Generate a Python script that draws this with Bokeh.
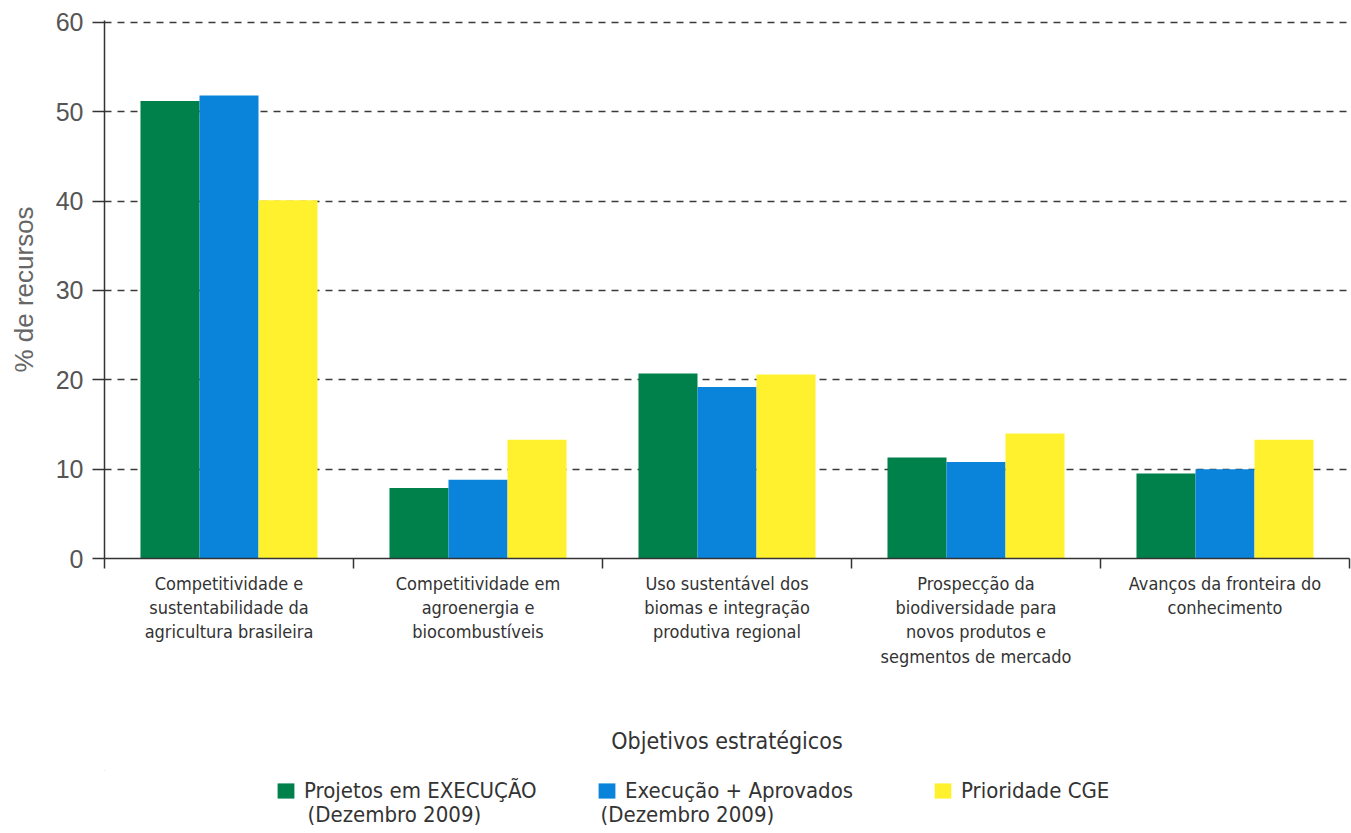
import numpy as np
from bokeh.plotting import figure
from bokeh.layouts import column
from bokeh.models import Range1d, FixedTicker, Legend, LegendItem, Label
from bokeh.embed import file_html
from bokeh.resources import INLINE

categories = [
    "Competitividade e\nsustentabilidade da\nagricultura brasileira",
    "Competitividade em\nagroenergia e\nbiocombustíveis",
    "Uso sustentável dos\nbiomas e integração\nprodutiva regional",
    "Prospecção da\nbiodiversidade para\nnovos produtos e\nsegmentos de mercado",
    "Avanços da fronteira do\nconhecimento",
]
series_names = [
    "Projetos em EXECUÇÃO",
    "Execução + Aprovados",
    "Prioridade CGE",
]
series_subtitles = ["(Dezembro 2009)", "(Dezembro 2009)", ""]
execucao = [51.2, 7.9, 20.7, 11.3, 9.5]
exec_aprovados = [51.8, 8.8, 19.2, 10.8, 10.0]
prioridade = [40.1, 13.3, 20.6, 14.0, 13.3]
y_ticks = [0, 10, 20, 30, 40, 50, 60]

colors = ["#00804a", "#0a84da", "#fff12e"]
NARROW = "'Liberation Sans Narrow', 'DejaVu Sans Condensed', 'Roboto', sans-serif"
SANS = "'Liberation Sans', Arial, sans-serif"

n = len(categories)
centers = np.arange(n) + 0.5

MAIN_H = 770
FRAME_L, FRAME_R = 104, 2
p = figure(width=1351, height=MAIN_H, output_backend="svg", toolbar_location=None,
           x_range=Range1d(0, n), y_range=Range1d(0, 60.2),
           min_border_left=FRAME_L, min_border_right=FRAME_R, min_border_top=20,
           min_border_bottom=MAIN_H - 558)
p.outline_line_color = None
p.background_fill_color = "white"
p.border_fill_color = "white"

bw = 0.237
offsets = [-bw, 0.0, bw]
for vals, off, col in zip([execucao, exec_aprovados, prioridade], offsets, colors):
    p.vbar(x=centers + off, top=vals, width=bw, bottom=0,
           fill_color=col, line_color=None)

# grid
p.xgrid.grid_line_color = None
p.ygrid.ticker = FixedTicker(ticks=y_ticks)
p.ygrid.grid_line_color = "#3a3a3a"
p.ygrid.grid_line_width = 1.4
p.ygrid.grid_line_dash = "7 6"

# y axis
ya = p.yaxis[0]
ya.ticker = FixedTicker(ticks=y_ticks)
ya.axis_line_color = "#333333"
ya.axis_line_width = 1.5
ya.major_tick_line_color = "#333333"
ya.major_tick_line_width = 1.5
ya.major_tick_out = 12
ya.major_tick_in = 0
ya.minor_tick_line_color = None
ya.major_label_text_font = SANS
ya.major_label_text_font_size = "25px"
ya.major_label_text_color = "#555555"
ya.major_label_standoff = 9
ya.axis_label = "% de recursos"
ya.axis_label_text_font = SANS
ya.axis_label_text_font_size = "26px"
ya.axis_label_text_font_style = "normal"
ya.axis_label_text_color = "#666666"
ya.axis_label_standoff = 14

# x axis
xa = p.xaxis[0]
xa.ticker = FixedTicker(ticks=list(centers), minor_ticks=list(range(n + 1)))
xa.major_label_overrides = {float(c): lab for c, lab in zip(centers, categories)}
xa.axis_line_color = "#333333"
xa.axis_line_width = 1.5
xa.major_tick_line_color = None
xa.major_tick_out = 0
xa.major_tick_in = 0
xa.minor_tick_line_color = "#333333"
xa.minor_tick_line_width = 1.5
xa.minor_tick_out = 10
xa.minor_tick_in = 0
xa.major_label_text_font = NARROW
xa.major_label_text_font_size = "18px"
xa.major_label_text_color = "#333333"
xa.major_label_text_line_height = 1.16
xa.major_label_standoff = 4
xa.axis_label = "Objetivos estratégicos"
xa.axis_label_text_font = NARROW
xa.axis_label_text_font_size = "23px"
xa.axis_label_text_font_style = "normal"
xa.axis_label_text_color = "#333333"
xa.axis_label_standoff = 58

# legend strip below the chart (its frame is aligned with the chart frame)
LEG_H = 833 - MAIN_H
q = figure(width=1351, height=LEG_H, output_backend="svg", toolbar_location=None,
           x_range=Range1d(FRAME_L, 1351 - FRAME_R), y_range=Range1d(833, MAIN_H),
           x_axis_location=None, y_axis_location=None,
           min_border=0, min_border_left=FRAME_L, min_border_right=FRAME_R,
           min_border_top=0, min_border_bottom=0)
q.grid.visible = False
q.outline_line_color = None
q.border_fill_color = "white"
q.background_fill_color = "white"

leg_x = [277, 598, 934]       # swatch left edge (page px)
sub_x = [307, 600]            # second-line text left edge (page px)
for i, (name, col, lx) in enumerate(zip(series_names, colors, leg_x)):
    # proxy glyph outside the visible range, only used for the legend swatch
    r = q.vbar(x=[-50], top=[-50], bottom=[-60], width=1, fill_color=col, line_color=None)
    leg = Legend(items=[LegendItem(label=name, renderers=[r])],
                 location=(lx - FRAME_L - 2, 30), orientation="horizontal",
                 padding=0, margin=0, spacing=0,
                 glyph_width=21, glyph_height=19, label_standoff=8,
                 label_text_font=NARROW, label_text_font_size="22px",
                 label_text_color="#333333",
                 border_line_color=None, background_fill_alpha=0)
    q.add_layout(leg)
    if series_subtitles[i]:
        q.add_layout(Label(x=sub_x[i], y=814, text=series_subtitles[i],
                           text_baseline="middle", text_align="left",
                           text_font=NARROW, text_font_size="22px",
                           text_color="#333333"))

layout = column(p, q, spacing=0)
open("out.html", "w").write(file_html(layout, INLINE))
